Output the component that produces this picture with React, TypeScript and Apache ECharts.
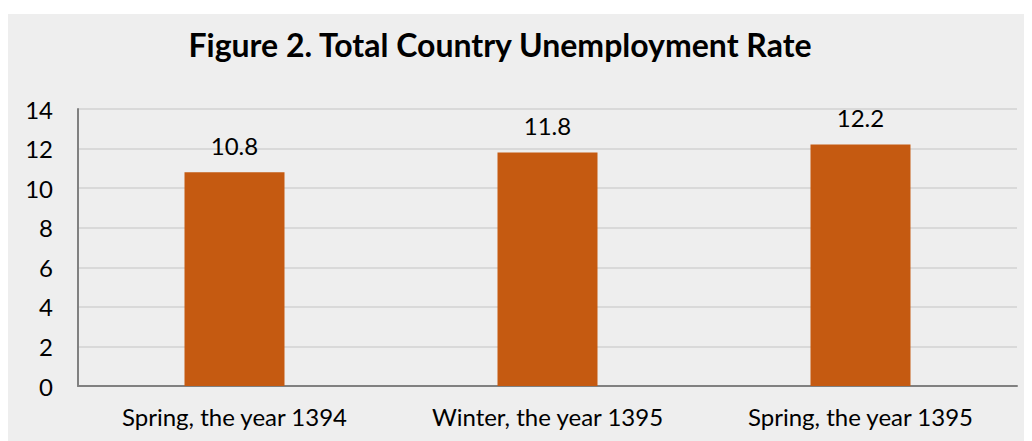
import React, { useEffect, useRef } from "react";
import * as echarts from "echarts";

const categories = ["Spring, the year 1394", "Winter, the year 1395", "Spring, the year 1395"];
const rates = [10.8, 11.8, 12.2];
const titleText = "Figure 2. Total Country Unemployment Rate";
const FONT = "Lato, 'Open Sans', sans-serif";

export default function App() {
  const ref = useRef<HTMLDivElement>(null);
  useEffect(() => {
    if (!ref.current) return;
    const chart = echarts.init(ref.current, null, { renderer: "svg" });
    chart.setOption({
      animation: false,
      backgroundColor: "#eeeeee",
      title: {
        text: titleText,
        left: 487,
        top: 9,
        textAlign: "center",
        textStyle: { fontFamily: FONT, fontWeight: "bold", fontSize: 32, color: "#000" },
      },
      grid: { left: 70, right: 15, top: 95, bottom: 55 },
      xAxis: {
        type: "category",
        data: categories,
        axisLine: { lineStyle: { color: "#808080", width: 2 } },
        axisTick: { show: false },
        axisLabel: { fontFamily: FONT, fontSize: 24, color: "#000", margin: 18 },
      },
      yAxis: {
        type: "value",
        min: 0,
        max: 14,
        interval: 2,
        axisLine: { show: true, lineStyle: { color: "#808080", width: 2 } },
        axisTick: { show: false },
        splitLine: { lineStyle: { color: "#d9d9d9", width: 2 } },
        axisLabel: { fontFamily: FONT, fontSize: 24, color: "#000", margin: 25 },
      },
      series: [
        {
          type: "bar",
          data: rates,
          barWidth: 100,
          itemStyle: { color: "#c55a11" },
          label: {
            show: true,
            position: "top",
            distance: 15,
            fontFamily: FONT,
            fontSize: 24,
            color: "#000",
          },
        },
      ],
    });
    return () => chart.dispose();
  }, []);
  return <div ref={ref} style={{ width: 1024, height: 427, marginTop: 6 }} />;
}
